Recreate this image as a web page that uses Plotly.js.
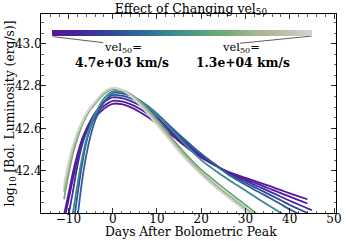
<!DOCTYPE html>
<html>
<head>
<meta charset="utf-8">
<script src="https://cdn.plot.ly/plotly-3.0.1.min.js"></script>
<style>html,body{margin:0;padding:0;background:#fff;}#chart{width:346px;height:241px;}</style>
</head>
<body>
<div id="chart"></div>
<script>
// Days after bolometric peak (common grid)
const days = [-12,-11,-10,-9,-8,-7,-6,-5,-4,-2,0,2,4,6,8,10,12,14,16,18,20,22,24,26,28,30,32,34,36,38,40,42,44,45];

// vel50 values of the models (km/s)
const vel50 = [4700, 5000, 5800, 6600, 7200, 8500, 10000, 11000, 12000, 13000];

// y tick labels
const yTicks = [42.4, 42.6, 42.8, 43.0];

// log10 bolometric luminosity for each model
const lum_v1 = [null,42.165,42.26,42.36,42.45,42.525,42.58,42.62,42.65,42.692,42.716,42.714,42.70,42.678,42.652,42.622,42.59,42.556,42.522,42.49,42.462,42.437,42.415,42.396,42.38,42.366,42.352,42.338,42.323,42.308,42.293,42.279,42.265,null];
const lum_v2 = [null,42.19,42.29,42.39,42.475,42.545,42.595,42.635,42.662,42.705,42.73,42.727,42.714,42.694,42.667,42.636,42.602,42.565,42.53,42.497,42.467,42.44,42.415,42.393,42.375,42.359,42.343,42.327,42.31,42.294,42.277,42.261,42.245,null];
const lum_v3 = [null,42.10,42.19,42.30,42.42,42.515,42.585,42.635,42.672,42.722,42.746,42.743,42.73,42.71,42.682,42.65,42.613,42.573,42.537,42.503,42.472,42.443,42.416,42.39,42.37,42.351,42.333,42.315,42.296,42.277,42.258,42.24,42.222,42.214];
const lum_v4 = [null,null,42.03,42.13,42.28,42.42,42.53,42.605,42.655,42.725,42.757,42.754,42.742,42.722,42.694,42.661,42.623,42.582,42.545,42.51,42.477,42.446,42.416,42.387,42.364,42.343,42.322,42.302,42.281,42.26,42.238,42.219,42.2,null];
const lum_v5 = [null,null,null,42.0,42.17,42.34,42.47,42.565,42.635,42.722,42.767,42.765,42.754,42.734,42.704,42.669,42.63,42.59,42.552,42.515,42.48,42.447,42.415,42.383,42.357,42.333,42.31,42.288,42.265,42.241,42.217,42.196,42.175,null];
const lum_v6 = [null,null,42.07,42.20,42.33,42.45,42.545,42.615,42.665,42.74,42.775,42.772,42.757,42.733,42.703,42.665,42.622,42.577,42.532,42.49,42.45,42.418,42.388,42.36,42.333,42.306,42.279,42.252,42.226,42.2,42.175,null,null,null];
const lum_v7 = [null,42.265,42.38,42.48,42.55,42.61,42.655,42.69,42.715,42.762,42.785,42.78,42.762,42.73,42.688,42.64,42.59,42.537,42.49,42.445,42.405,42.37,42.335,42.302,42.27,42.238,42.205,42.175,null,null,null,null,null,null];
const lum_v8 = [null,42.30,42.41,42.50,42.565,42.62,42.66,42.695,42.72,42.767,42.788,42.782,42.76,42.725,42.68,42.632,42.58,42.527,42.478,42.433,42.392,42.355,42.32,42.287,42.255,42.223,42.19,null,null,null,null,null,null,null];
const lum_v9 = [null,42.32,42.425,42.51,42.575,42.625,42.665,42.698,42.723,42.769,42.79,42.782,42.757,42.72,42.673,42.625,42.574,42.522,42.472,42.427,42.386,42.348,42.313,42.28,42.248,42.216,42.184,null,null,null,null,null,null,null];
const lum_v10 = [null,42.34,42.44,42.52,42.58,42.63,42.67,42.70,42.725,42.772,42.792,42.782,42.753,42.713,42.666,42.617,42.566,42.515,42.466,42.421,42.38,42.342,42.307,42.274,42.242,42.21,42.178,null,null,null,null,null,null,null];

const series = [lum_v1,lum_v2,lum_v3,lum_v4,lum_v5,lum_v6,lum_v7,lum_v8,lum_v9,lum_v10];

// colour map (purple -> blue -> teal -> green -> grey)
const cmap = [
  [0.00,'#57169a'],[0.10,'#45259a'],[0.22,'#30479a'],[0.35,'#2f6a9a'],
  [0.47,'#3b8c8d'],[0.58,'#57a27c'],[0.68,'#78ad76'],[0.79,'#a5b78d'],
  [0.90,'#c3bdaa'],[1.00,'#d4d4d4']
];
const vmin = 4700, vmax = 13000;

function hex2rgb(h){return [parseInt(h.slice(1,3),16),parseInt(h.slice(3,5),16),parseInt(h.slice(5,7),16)];}
function colorAt(v){
  const t = Math.max(0, Math.min(1, (v - vmin) / (vmax - vmin)));
  for (let i = 0; i < cmap.length - 1; i++) {
    const [t0,c0] = cmap[i], [t1,c1] = cmap[i+1];
    if (t >= t0 && t <= t1) {
      const f = (t - t0) / (t1 - t0 || 1);
      const a = hex2rgb(c0), b = hex2rgb(c1);
      const c = a.map((x,k)=>Math.round(x + f*(b[k]-x)));
      return 'rgb(' + c.join(',') + ')';
    }
  }
  return cmap[cmap.length-1][1];
}

const traces = series.map((ys, i) => ({
  x: days, y: ys, type: 'scatter', mode: 'lines',
  line: {color: colorAt(vel50[i]), width: 1.8, shape: 'spline', smoothing: 0.8},
  connectgaps: false, showlegend: false, hoverinfo: 'skip'
}));

// dummy trace for the colour bar
traces.push({
  x: [1000, 1000], y: [42.5, 42.5], type: 'scatter', mode: 'markers',
  marker: {color: [vmin, vmax], colorscale: cmap, cmin: vmin, cmax: vmax, size: 1,
    showscale: true,
    colorbar: {orientation: 'h', x: 0.478, xanchor: 'center', y: 0.9045, yanchor: 'middle',
      len: 260, lenmode: 'pixels', thickness: 6, thicknessmode: 'pixels',
      outlinewidth: 0, showticklabels: false, ticks: '', xpad: 0, ypad: 0}},
  showlegend: false, hoverinfo: 'skip'
});

const F = 'DejaVu Serif, serif';
const layout = {
  width: 346, height: 241,
  margin: {l: 41, r: 10, t: 14, b: 28, pad: 0},
  paper_bgcolor: '#fff', plot_bgcolor: '#fff',
  font: {family: F, size: 12, color: '#000'},
  title: {text: 'Effect of Changing vel<sub>50</sub>', font: {family: F, size: 12.5, color: '#000'},
    x: 0.508, xref: 'paper', xanchor: 'center', y: 0.966, yref: 'container', yanchor: 'middle'},
  xaxis: {
    range: [-16.2, 50.45], dtick: 10, tick0: 0, ticks: 'inside', ticklen: 5, tickwidth: 0.8,
    tickcolor: '#000', showline: true, linecolor: '#000', linewidth: 1, mirror: 'allticks',
    showgrid: false, zeroline: false, ticklabelstandoff: -5,
    minor: {dtick: 2, ticks: 'inside', ticklen: 2.5, tickwidth: 0.6, tickcolor: '#000', showgrid: false},
    tickfont: {family: F, size: 12, color: '#000'}
  },
  yaxis: {
    range: [42.2, 43.14], tickmode: 'array', tickvals: yTicks, tickformat: '.1f', ticks: 'inside', ticklen: 5, tickwidth: 0.8,
    tickcolor: '#000', showline: true, linecolor: '#000', linewidth: 1, mirror: 'allticks',
    showgrid: false, zeroline: false, ticklabelstandoff: -4,
    minor: {dtick: 0.05, tick0: 42.4, ticks: 'inside', ticklen: 2.5, tickwidth: 0.6, tickcolor: '#000', showgrid: false},
    tickfont: {family: F, size: 12, color: '#000'}
  },
  shapes: [
    {type: 'line', xref: 'paper', yref: 'paper', x0: 0.0417, y0: 0.886, x1: 0.211, y1: 0.856,
      line: {color: '#333', width: 0.8}},
    {type: 'line', xref: 'paper', yref: 'paper', x0: 0.9176, y0: 0.889, x1: 0.6746, y1: 0.853,
      line: {color: '#333', width: 0.8}}
  ],
  annotations: [
    {text: 'Days After Bolometric Peak', xref: 'paper', yref: 'paper', x: 0.508, y: -0.094, showarrow: false,
      xanchor: 'center', yanchor: 'middle', font: {family: F, size: 12.3, color: '#000'}},
    {text: 'log<sub>10</sub> [Bol. Luminosity (erg/s)]', xref: 'paper', yref: 'paper', x: -0.105, y: 0.5, showarrow: false,
      textangle: -90, xanchor: 'center', yanchor: 'middle', font: {family: F, size: 12.3, color: '#000'}},
    {text: 'vel<sub>50</sub>=', xref: 'paper', yref: 'paper', x: 0.278, y: 0.834, showarrow: false,
      xanchor: 'center', yanchor: 'middle', font: {family: F, size: 11.5, color: '#000'}},
    {text: '<b>4.7e+03 km/s</b>', xref: 'paper', yref: 'paper', x: 0.2746, y: 0.758, showarrow: false,
      xanchor: 'center', yanchor: 'middle', font: {family: F, size: 12.3, color: '#000'}},
    {text: 'vel<sub>50</sub>=', xref: 'paper', yref: 'paper', x: 0.678, y: 0.834, showarrow: false,
      xanchor: 'center', yanchor: 'middle', font: {family: F, size: 11.5, color: '#000'}},
    {text: '<b>1.3e+04 km/s</b>', xref: 'paper', yref: 'paper', x: 0.685, y: 0.758, showarrow: false,
      xanchor: 'center', yanchor: 'middle', font: {family: F, size: 12.3, color: '#000'}}
  ]
};

Plotly.newPlot('chart', traces, layout, {staticPlot: true, displayModeBar: false});
</script>
</body>
</html>
